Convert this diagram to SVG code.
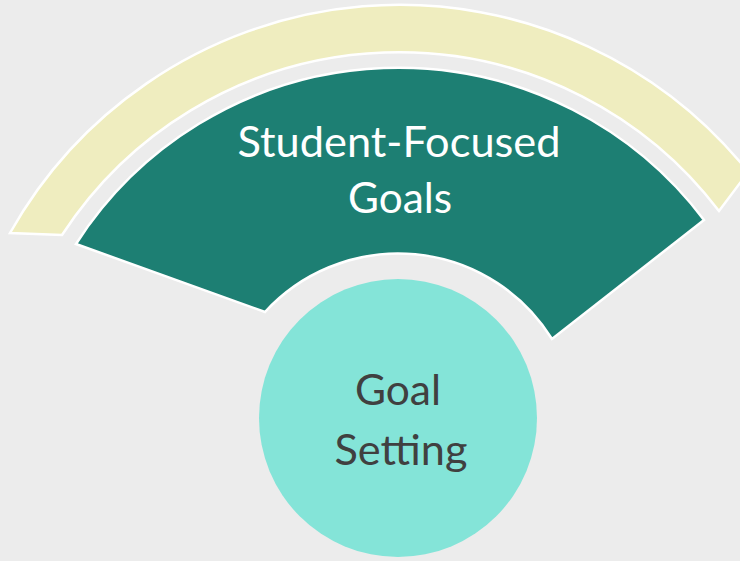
<svg xmlns="http://www.w3.org/2000/svg" width="740" height="561" viewBox="0 0 740 561">
<style>
.shape{stroke:#ffffff;stroke-width:2.5;stroke-linejoin:miter}
.lbl{font-family:Lato,"Noto Sans","Liberation Sans",sans-serif;font-size:42px;text-anchor:middle}
</style>
<rect x="0" y="0" width="740" height="561" fill="#ececec"/>
<g id="arc-outer">
<path class="shape" fill="#efedbf" d="M 10,233 A 447 447 0 0 1 748.3,171.9 L 719,211 A 402 402 0 0 0 62,235 Z"/>
</g>
<g id="node-student-focused-goals">
<path class="shape" fill="#1d7f73" d="M 76,244 A 383 383 0 0 1 704,220 L 552,339 A 181 181 0 0 0 265,312 Z"/>
<text class="lbl" fill="#ffffff" x="399" y="157" textLength="323" lengthAdjust="spacingAndGlyphs">Student-Focused</text>
<text class="lbl" fill="#ffffff" x="400" y="213" textLength="104" lengthAdjust="spacingAndGlyphs">Goals</text>
</g>
<g id="node-goal-setting">
<circle cx="398" cy="418" r="139" fill="#84e4d8"/>
<text class="lbl" fill="#404040" x="398" y="405" textLength="86" lengthAdjust="spacingAndGlyphs">Goal</text>
<text class="lbl" fill="#404040" x="401" y="465" textLength="133" lengthAdjust="spacingAndGlyphs">Setting</text>
</g>
<g id="connectors"></g>
</svg>
